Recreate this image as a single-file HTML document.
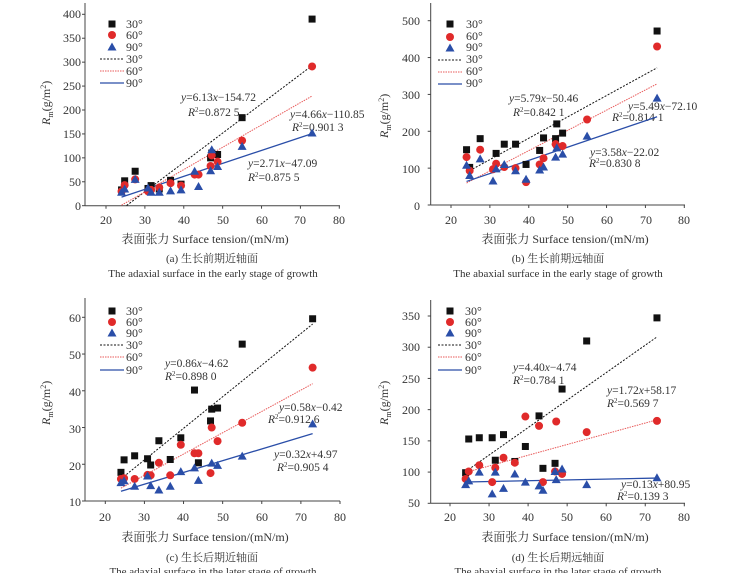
<!DOCTYPE html>
<html><head><meta charset="utf-8"><style>
body{margin:0;background:#fff;}
svg{display:block;font-family:"Liberation Serif","Noto Serif CJK SC",serif;}
.t{font-size:12px;fill:#333;}
.a{font-size:11.5px;fill:#333;}
.c{font-size:11px;fill:#333;}
</style></head><body>
<svg id="s" width="735" height="573" viewBox="0 0 735 573" xmlns="http://www.w3.org/2000/svg">
<g class="t" text-anchor="end">
<text x="81" y="18">400</text><text x="81" y="42">350</text><text x="81" y="66">300</text><text x="81" y="90">250</text><text x="81" y="114">200</text><text x="81" y="138">150</text><text x="81" y="162">100</text><text x="81" y="186">50</text><text x="81" y="210">0</text>
<text x="420" y="25">500</text><text x="420" y="62">400</text><text x="420" y="99">300</text><text x="420" y="136">200</text><text x="420" y="173">100</text><text x="420" y="210">0</text>
<text x="81" y="322">60</text><text x="81" y="359">50</text><text x="81" y="396">40</text><text x="81" y="433">30</text><text x="81" y="470">20</text><text x="81" y="506">10</text>
<text x="420" y="320">350</text><text x="420" y="351">300</text><text x="420" y="383">250</text><text x="420" y="414">200</text><text x="420" y="445">150</text><text x="420" y="476">100</text><text x="420" y="507">50</text>
</g>
<g class="t" text-anchor="middle">
<text x="106" y="224">20</text><text x="145" y="224">30</text><text x="184" y="224">40</text><text x="223" y="224">50</text><text x="262" y="224">60</text><text x="300" y="224">70</text><text x="339" y="224">80</text>
<text x="451" y="224">20</text><text x="490" y="224">30</text><text x="529" y="224">40</text><text x="568" y="224">50</text><text x="607" y="224">60</text><text x="646" y="224">70</text><text x="684" y="224">80</text>
<text x="105" y="521">20</text><text x="144" y="521">30</text><text x="183" y="521">40</text><text x="223" y="521">50</text><text x="262" y="521">60</text><text x="301" y="521">70</text><text x="340" y="521">80</text>
<text x="450" y="521">20</text><text x="489" y="521">30</text><text x="528" y="521">40</text><text x="567" y="521">50</text><text x="606" y="521">60</text><text x="645" y="521">70</text><text x="684" y="521">80</text>
<text x="205" y="243">表面张力 Surface tension/(mN/m)</text>
<text x="565" y="243">表面张力 Surface tension/(mN/m)</text>
<text x="205" y="541">表面张力 Surface tension/(mN/m)</text>
<text x="565" y="541">表面张力 Surface tension/(mN/m)</text>
</g>
<g class="c" text-anchor="middle">
<text x="212" y="262">(a) 生长前期近轴面</text><text x="213" y="277">The adaxial surface in the early stage of growth</text>
<text x="558" y="262">(b) 生长前期远轴面</text><text x="558" y="277">The abaxial surface in the early stage of growth</text>
<text x="212" y="561">(c) 生长后期近轴面</text><text x="213" y="575">The adaxial surface in the later stage of growth</text>
<text x="558" y="561">(d) 生长后期远轴面</text><text x="558" y="575">The abaxial surface in the later stage of growth</text>
</g>
<g class="t">
<text transform="translate(50,125) rotate(-90)"><tspan font-style="italic">R</tspan><tspan font-size="8" dy="3">m</tspan><tspan dy="-3">(g/m</tspan><tspan font-size="8" dy="-4">2</tspan><tspan dy="4">)</tspan></text>
<text transform="translate(388,138) rotate(-90)"><tspan font-style="italic">R</tspan><tspan font-size="8" dy="3">m</tspan><tspan dy="-3">(g/m</tspan><tspan font-size="8" dy="-4">2</tspan><tspan dy="4">)</tspan></text>
<text transform="translate(50,425) rotate(-90)"><tspan font-style="italic">R</tspan><tspan font-size="8" dy="3">m</tspan><tspan dy="-3">(g/m</tspan><tspan font-size="8" dy="-4">2</tspan><tspan dy="4">)</tspan></text>
<text transform="translate(388,425) rotate(-90)"><tspan font-style="italic">R</tspan><tspan font-size="8" dy="3">m</tspan><tspan dy="-3">(g/m</tspan><tspan font-size="8" dy="-4">2</tspan><tspan dy="4">)</tspan></text>
</g>
<g class="t">
<text x="126" y="28">30°</text><text x="126" y="39">60°</text><text x="126" y="51">90°</text><text x="126" y="63">30°</text><text x="126" y="75">60°</text><text x="126" y="87">90°</text>
<text x="466" y="28">30°</text><text x="466" y="40">60°</text><text x="466" y="51">90°</text><text x="466" y="63">30°</text><text x="466" y="75">60°</text><text x="466" y="87">90°</text>
<text x="126" y="315">30°</text><text x="126" y="326">60°</text><text x="126" y="337">90°</text><text x="126" y="349">30°</text><text x="126" y="361">60°</text><text x="126" y="374">90°</text>
<text x="465" y="315">30°</text><text x="465" y="326">60°</text><text x="465" y="337">90°</text><text x="465" y="349">30°</text><text x="465" y="361">60°</text><text x="465" y="374">90°</text>
</g>
<g class="a">
<text x="181" y="101"><tspan font-style="italic">y</tspan>=6.13<tspan font-style="italic">x</tspan>−154.72</text><text x="188" y="116"><tspan font-style="italic">R</tspan><tspan font-size="7" dy="-4">2</tspan><tspan dy="4">=0.872 5</tspan></text>
<text x="290" y="118"><tspan font-style="italic">y</tspan>=4.66<tspan font-style="italic">x</tspan>−110.85</text><text x="292" y="131"><tspan font-style="italic">R</tspan><tspan font-size="7" dy="-4">2</tspan><tspan dy="4">=0.901 3</tspan></text>
<text x="248" y="167"><tspan font-style="italic">y</tspan>=2.71<tspan font-style="italic">x</tspan>−47.09</text><text x="248" y="181"><tspan font-style="italic">R</tspan><tspan font-size="7" dy="-4">2</tspan><tspan dy="4">=0.875 5</tspan></text>

<text x="509" y="102"><tspan font-style="italic">y</tspan>=5.79<tspan font-style="italic">x</tspan>−50.46</text><text x="513" y="116"><tspan font-style="italic">R</tspan><tspan font-size="7" dy="-4">2</tspan><tspan dy="4">=0.842 1</tspan></text>
<text x="628" y="110"><tspan font-style="italic">y</tspan>=5.49<tspan font-style="italic">x</tspan>−72.10</text><text x="612" y="121"><tspan font-style="italic">R</tspan><tspan font-size="7" dy="-4">2</tspan><tspan dy="4">=0.814 1</tspan></text>
<text x="590" y="156"><tspan font-style="italic">y</tspan>=3.58<tspan font-style="italic">x</tspan>−22.02</text><text x="589" y="167"><tspan font-style="italic">R</tspan><tspan font-size="7" dy="-4">2</tspan><tspan dy="4">=0.830 8</tspan></text>

<text x="165" y="367"><tspan font-style="italic">y</tspan>=0.86<tspan font-style="italic">x</tspan>−4.62</text><text x="165" y="380"><tspan font-style="italic">R</tspan><tspan font-size="7" dy="-4">2</tspan><tspan dy="4">=0.898 0</tspan></text>
<text x="279" y="411"><tspan font-style="italic">y</tspan>=0.58<tspan font-style="italic">x</tspan>−0.42</text><text x="268" y="423"><tspan font-style="italic">R</tspan><tspan font-size="7" dy="-4">2</tspan><tspan dy="4">=0.912 6</tspan></text>
<text x="274" y="458"><tspan font-style="italic">y</tspan>=0.32<tspan font-style="italic">x</tspan>+4.97</text><text x="277" y="471"><tspan font-style="italic">R</tspan><tspan font-size="7" dy="-4">2</tspan><tspan dy="4">=0.905 4</tspan></text>

<text x="513" y="371"><tspan font-style="italic">y</tspan>=4.40<tspan font-style="italic">x</tspan>−4.74</text><text x="513" y="384"><tspan font-style="italic">R</tspan><tspan font-size="7" dy="-4">2</tspan><tspan dy="4">=0.784 1</tspan></text>
<text x="607" y="394"><tspan font-style="italic">y</tspan>=1.72<tspan font-style="italic">x</tspan>+58.17</text><text x="607" y="407"><tspan font-style="italic">R</tspan><tspan font-size="7" dy="-4">2</tspan><tspan dy="4">=0.569 7</tspan></text>
<text x="621" y="488"><tspan font-style="italic">y</tspan>=0.13<tspan font-style="italic">x</tspan>+80.95</text><text x="617" y="500"><tspan font-style="italic">R</tspan><tspan font-size="7" dy="-4">2</tspan><tspan dy="4">=0.139 3</tspan></text>
</g>
<g id="g"></g>
</svg>
<script>
var NS="http://www.w3.org/2000/svg",G=document.getElementById("g");
function el(n,a){var e=document.createElementNS(NS,n);for(var k in a)e.setAttribute(k,a[k]);G.appendChild(e);return e;}
var C=["#111","#e02a2a","#2a4ea8"];
function mk(t,x,y){if(t==0)el("rect",{x:x-3.5,y:y-3.5,width:7,height:7,fill:C[0]});
else if(t==1)el("circle",{cx:x,cy:y,r:4,fill:C[1]});
else el("polygon",{points:(x)+","+(y-4.5)+" "+(x-4.5)+","+(y+3.5)+" "+(x+4.5)+","+(y+3.5),fill:C[2]});}
function ln(t,x1,y1,x2,y2){var a={x1:x1,y1:y1,x2:x2,y2:y2,stroke:C[t],"stroke-width":t==2?1.3:1};
if(t==0)a["stroke-dasharray"]="2,1.5";if(t==1){a["stroke-dasharray"]="1.5,1";a.stroke="#e85a5a";}el("line",a);}
var X=[24,24.8,27.5,30.8,31.6,33.7,36.6,39.3,42.8,43.8,46.9,47.2,48.7,55,73];
function panel(p){
 var fx=function(v){return p.x20+(v-20)*(p.x80-p.x20)/60;};
 var fy=function(v){return p.yb+(v-p.v0)*(p.yt-p.yb)/(p.v1-p.v0);};
 el("line",{x1:p.L,y1:p.top,x2:p.L,y2:p.B,stroke:"#444","stroke-width":1});
 el("line",{x1:p.L,y1:p.B,x2:p.R,y2:p.B,stroke:"#444","stroke-width":1});
 for(var v=20;v<=80;v+=10){el("line",{x1:fx(v),y1:p.B,x2:fx(v),y2:p.B+3,stroke:"#444"});}
 for(var i=0;i<p.yt_ticks.length;i++){var yy=fy(p.yt_ticks[i]);el("line",{x1:p.L-3,y1:yy,x2:p.L,y2:yy,stroke:"#444"});}
 for(var s=0;s<3;s++){var f=p.fit[s];var xa=f[2]||24;ln(s,fx(xa),fy(f[0]*xa+f[1]),fx(73),fy(f[0]*73+f[1]));}
 for(var s=0;s<3;s++){var d=p.d[s];for(var i=0;i<d.length;i++){if(d[i]!=null)mk(s,fx(X[i]),fy(d[i]));}}
 var ly=p.leg;for(var s=0;s<3;s++){mk(s,p.lx,ly[s]);ln(s,p.lx-12,ly[s+3],p.lx+12,ly[s+3]);}
}
panel({x20:106,x80:339.3,yb:205.7,yt:14.3,v0:0,v1:400,L:85,R:340,top:3,B:205.7,yt_ticks:[0,50,100,150,200,250,300,350,400],
 lx:112,leg:[24,35,47,59,71,83],
 fit:[[6.13,-154.72,25.3],[4.66,-110.85,24],[2.71,-47.09,24]],
 d:[[33,52,72,36,42,35,53,45,null,null,100,110,107,184,390],
    [30,43,55,30,33,38,47,42,65,65,83,105,92,136,291],
    [28,35,55,37,28,28,31,33,72,40,73,117,82,124,152]]});
panel({x20:451,x80:684.3,yb:205,yt:20.7,v0:0,v1:500,L:430.7,R:685,top:3,B:205,yt_ticks:[0,100,200,300,400,500],
 lx:450,leg:[24,37,48,60,72,84],
 fit:[[5.79,-50.46],[5.49,-72.10],[3.58,-22.02]],
 d:[[150,102,180,null,140,165,165,110,148,182,180,220,195,null,472],
    [130,93,150,97,112,103,100,62,110,127,165,160,160,232,430],
    [108,80,125,65,98,110,93,70,95,103,130,155,138,187,290]]});
panel({x20:105.3,x80:340,yb:501,yt:317.3,v0:10,v1:60,L:85,R:340,top:298,B:501,yt_ticks:[10,20,30,40,50,60],
 lx:112,leg:[311,322,333,345,357,370],
 fit:[[0.86,-4.62],[0.58,-0.42],[0.32,4.97]],
 d:[[17.8,21.2,22.3,21.5,19.8,26.4,21.3,27.2,40.2,20.4,31.8,35,35.3,52.7,59.6],
    [16,16.2,16,17.1,17,20.4,17,25.3,23,23,17.6,30,26.3,31.3,46.3],
    [15,15.5,14,16.8,14.2,13,14,18,19,15.6,null,20.3,19.7,22.2,31]]});
panel({x20:450,x80:684.3,yb:503.3,yt:316,v0:50,v1:350,L:430.7,R:685,top:300,B:503.3,yt_ticks:[50,100,150,200,250,300,350],
 lx:450,leg:[311,322,333,345,357,370],
 fit:[[4.40,-4.74],[1.72,58.17],[0.13,80.95]],
 d:[[99,153,155,155,119,160,117,141,190,106,114,null,233,310,347],
    [89,101,111,84,107,123,115,189,174,84,101,181,97,164,182],
    [80,86,100,65,100,74,97,84,78,71,101,88,105,80,91]]});
</script>
</body></html>
